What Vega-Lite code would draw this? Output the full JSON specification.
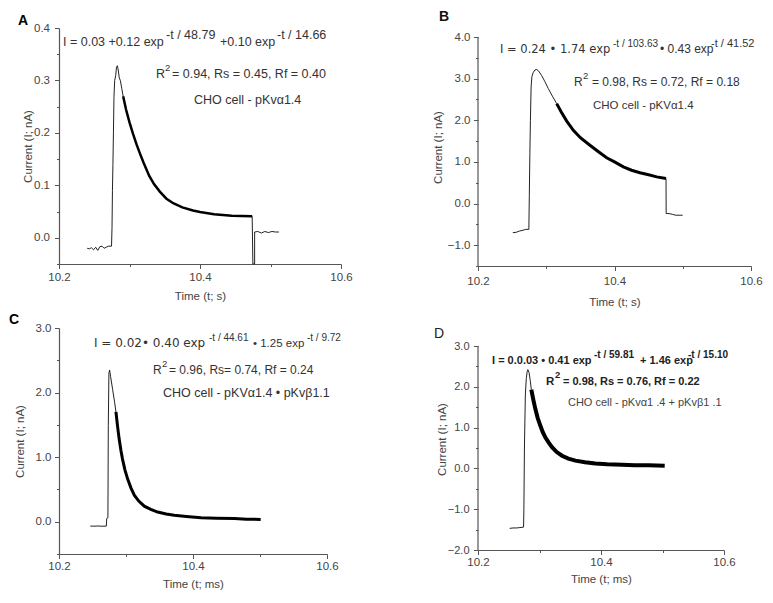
{
"$schema":"https://vega.github.io/schema/vega-lite/v6.json",
"padding":{"left":9,"top":10,"right":0,"bottom":0},
"background":"white",
"config":{"view":{"stroke":null},"font":"Liberation Sans",
"axis":{"grid":false,"domainColor":"#555","tickColor":"#555","labelColor":"#444","titleColor":"#444","labelFont":"Liberation Sans","titleFont":"Liberation Sans","labelFontSize":11.5,"titleFontSize":11.5,"titleFontWeight":"normal","labelFlush":false,"labelOverlap":false,"domainWidth":1.2,"tickWidth":1,"tickCount":40},
"text":{"font":"Liberation Sans","align":"left","baseline":"alphabetic","color":"#333"}},
"datasets":{
"traceA":[
{"t":10.240,"I":-0.020,"seg":"pre"},{"t":10.243,"I":-0.021,"seg":"pre"},{"t":10.246,"I":-0.019,"seg":"pre"},{"t":10.249,"I":-0.023,"seg":"pre"},{"t":10.252,"I":-0.018,"seg":"pre"},{"t":10.255,"I":-0.024,"seg":"pre"},{"t":10.258,"I":-0.017,"seg":"pre"},{"t":10.261,"I":-0.016,"seg":"pre"},{"t":10.264,"I":-0.020,"seg":"pre"},{"t":10.267,"I":-0.018,"seg":"pre"},{"t":10.270,"I":-0.016,"seg":"pre"},{"t":10.2745,"I":-0.016,"seg":"pre"},{"t":10.2752,"I":0.02,"seg":"pre"},{"t":10.2758,"I":0.09,"seg":"pre"},{"t":10.2765,"I":0.14,"seg":"pre"},{"t":10.2772,"I":0.20,"seg":"pre"},{"t":10.278,"I":0.27,"seg":"pre"},{"t":10.279,"I":0.30,"seg":"pre"},{"t":10.2805,"I":0.31,"seg":"pre"},{"t":10.2815,"I":0.325,"seg":"pre"},{"t":10.2828,"I":0.328,"seg":"pre"},{"t":10.284,"I":0.32,"seg":"pre"},{"t":10.2855,"I":0.305,"seg":"pre"},{"t":10.287,"I":0.300,"seg":"pre"},{"t":10.289,"I":0.285,"seg":"pre"},{"t":10.291,"I":0.270,"seg":"pre"},
{"t":10.291,"I":0.270,"seg":"fit"},{"t":10.295,"I":0.245,"seg":"fit"},{"t":10.300,"I":0.220,"seg":"fit"},{"t":10.305,"I":0.198,"seg":"fit"},{"t":10.310,"I":0.178,"seg":"fit"},{"t":10.315,"I":0.160,"seg":"fit"},{"t":10.320,"I":0.143,"seg":"fit"},{"t":10.328,"I":0.118,"seg":"fit"},{"t":10.335,"I":0.102,"seg":"fit"},{"t":10.343,"I":0.088,"seg":"fit"},{"t":10.352,"I":0.075,"seg":"fit"},{"t":10.362,"I":0.066,"seg":"fit"},{"t":10.375,"I":0.058,"seg":"fit"},{"t":10.390,"I":0.052,"seg":"fit"},{"t":10.400,"I":0.049,"seg":"fit"},{"t":10.420,"I":0.045,"seg":"fit"},{"t":10.445,"I":0.042,"seg":"fit"},{"t":10.474,"I":0.041,"seg":"fit"},
{"t":10.474,"I":0.041,"seg":"post"},{"t":10.475,"I":-0.05,"seg":"post"},{"t":10.4775,"I":-0.05,"seg":"post"},{"t":10.4775,"I":0.011,"seg":"post"},{"t":10.482,"I":0.012,"seg":"post"},{"t":10.487,"I":0.009,"seg":"post"},{"t":10.492,"I":0.012,"seg":"post"},{"t":10.497,"I":0.010,"seg":"post"},{"t":10.502,"I":0.012,"seg":"post"},{"t":10.507,"I":0.011,"seg":"post"},{"t":10.512,"I":0.011,"seg":"post"}
],
"traceB":[
{"t":10.251,"I":-0.70,"seg":"pre"},{"t":10.256,"I":-0.69,"seg":"pre"},{"t":10.261,"I":-0.66,"seg":"pre"},{"t":10.266,"I":-0.64,"seg":"pre"},{"t":10.270,"I":-0.62,"seg":"pre"},{"t":10.2745,"I":-0.62,"seg":"pre"},{"t":10.2752,"I":0.2,"seg":"pre"},{"t":10.276,"I":1.2,"seg":"pre"},{"t":10.2768,"I":2.0,"seg":"pre"},{"t":10.2778,"I":2.8,"seg":"pre"},{"t":10.279,"I":3.05,"seg":"pre"},{"t":10.281,"I":3.15,"seg":"pre"},{"t":10.2835,"I":3.21,"seg":"pre"},{"t":10.286,"I":3.22,"seg":"pre"},{"t":10.289,"I":3.18,"seg":"pre"},{"t":10.293,"I":3.08,"seg":"pre"},{"t":10.298,"I":2.93,"seg":"pre"},{"t":10.303,"I":2.76,"seg":"pre"},{"t":10.309,"I":2.58,"seg":"pre"},{"t":10.3153,"I":2.40,"seg":"pre"},
{"t":10.3153,"I":2.40,"seg":"fit"},{"t":10.322,"I":2.20,"seg":"fit"},{"t":10.330,"I":1.98,"seg":"fit"},{"t":10.3397,"I":1.76,"seg":"fit"},{"t":10.350,"I":1.58,"seg":"fit"},{"t":10.364,"I":1.40,"seg":"fit"},{"t":10.376,"I":1.25,"seg":"fit"},{"t":10.3885,"I":1.10,"seg":"fit"},{"t":10.400,"I":1.00,"seg":"fit"},{"t":10.413,"I":0.88,"seg":"fit"},{"t":10.425,"I":0.80,"seg":"fit"},{"t":10.4373,"I":0.74,"seg":"fit"},{"t":10.450,"I":0.69,"seg":"fit"},{"t":10.4618,"I":0.64,"seg":"fit"},{"t":10.4755,"I":0.60,"seg":"fit"},
{"t":10.4755,"I":0.60,"seg":"post"},{"t":10.4757,"I":-0.24,"seg":"post"},{"t":10.480,"I":-0.24,"seg":"post"},{"t":10.485,"I":-0.26,"seg":"post"},{"t":10.490,"I":-0.28,"seg":"post"},{"t":10.4999,"I":-0.28,"seg":"post"}
],
"traceC":[
{"t":10.2467,"I":-0.067,"seg":"pre"},{"t":10.252,"I":-0.070,"seg":"pre"},{"t":10.258,"I":-0.066,"seg":"pre"},{"t":10.264,"I":-0.070,"seg":"pre"},{"t":10.2706,"I":-0.068,"seg":"pre"},{"t":10.2712,"I":0.05,"seg":"pre"},{"t":10.2730,"I":0.06,"seg":"pre"},{"t":10.2736,"I":1.49,"seg":"pre"},{"t":10.2745,"I":2.30,"seg":"pre"},{"t":10.2755,"I":2.35,"seg":"pre"},{"t":10.2770,"I":2.25,"seg":"pre"},{"t":10.2800,"I":2.05,"seg":"pre"},{"t":10.2830,"I":1.85,"seg":"pre"},{"t":10.2850,"I":1.70,"seg":"pre"},
{"t":10.2850,"I":1.70,"seg":"fit"},{"t":10.2875,"I":1.47,"seg":"fit"},{"t":10.2898,"I":1.28,"seg":"fit"},{"t":10.2925,"I":1.10,"seg":"fit"},{"t":10.2948,"I":0.97,"seg":"fit"},{"t":10.2985,"I":0.80,"seg":"fit"},{"t":10.3025,"I":0.66,"seg":"fit"},{"t":10.3075,"I":0.52,"seg":"fit"},{"t":10.3124,"I":0.41,"seg":"fit"},{"t":10.3190,"I":0.32,"seg":"fit"},{"t":10.3273,"I":0.24,"seg":"fit"},{"t":10.3370,"I":0.19,"seg":"fit"},{"t":10.3472,"I":0.15,"seg":"fit"},{"t":10.3600,"I":0.12,"seg":"fit"},{"t":10.372,"I":0.10,"seg":"fit"},{"t":10.390,"I":0.08,"seg":"fit"},{"t":10.412,"I":0.06,"seg":"fit"},{"t":10.435,"I":0.055,"seg":"fit"},{"t":10.4617,"I":0.05,"seg":"fit"},{"t":10.480,"I":0.04,"seg":"fit"},{"t":10.501,"I":0.035,"seg":"fit"}
],
"traceD":[
{"t":10.2515,"I":-1.47,"seg":"pre"},{"t":10.257,"I":-1.46,"seg":"pre"},{"t":10.263,"I":-1.46,"seg":"pre"},{"t":10.268,"I":-1.45,"seg":"pre"},{"t":10.2741,"I":-1.44,"seg":"pre"},{"t":10.2746,"I":-1.0,"seg":"pre"},{"t":10.2755,"I":0.5,"seg":"pre"},{"t":10.2770,"I":1.8,"seg":"pre"},{"t":10.2785,"I":2.2,"seg":"pre"},{"t":10.2800,"I":2.38,"seg":"pre"},{"t":10.2811,"I":2.42,"seg":"pre"},{"t":10.2830,"I":2.35,"seg":"pre"},{"t":10.2850,"I":2.15,"seg":"pre"},{"t":10.2867,"I":1.93,"seg":"pre"},
{"t":10.2867,"I":1.93,"seg":"fit"},{"t":10.2900,"I":1.68,"seg":"fit"},{"t":10.2932,"I":1.46,"seg":"fit"},{"t":10.2970,"I":1.24,"seg":"fit"},{"t":10.3013,"I":1.05,"seg":"fit"},{"t":10.3050,"I":0.90,"seg":"fit"},{"t":10.3094,"I":0.76,"seg":"fit"},{"t":10.3150,"I":0.63,"seg":"fit"},{"t":10.3203,"I":0.52,"seg":"fit"},{"t":10.3280,"I":0.40,"seg":"fit"},{"t":10.3366,"I":0.31,"seg":"fit"},{"t":10.3470,"I":0.24,"seg":"fit"},{"t":10.3583,"I":0.19,"seg":"fit"},{"t":10.3740,"I":0.15,"seg":"fit"},{"t":10.3908,"I":0.12,"seg":"fit"},{"t":10.410,"I":0.10,"seg":"fit"},{"t":10.4342,"I":0.09,"seg":"fit"},{"t":10.455,"I":0.08,"seg":"fit"},{"t":10.4776,"I":0.075,"seg":"fit"},{"t":10.5036,"I":0.065,"seg":"fit"}
]
},
"columns":2,
"spacing":{"row":62,"column":137},
"bounds":"flush",
"concat":[
{"width":282,"height":236,
"title":{"text":"A","anchor":"start","frame":"group","dx":-41,"offset":-5.5,"fontSize":14,"fontWeight":"bold","font":"Liberation Sans","color":"#000"},
"layer":[
{"data":{"name":"traceA"},"transform":[{"filter":"datum.seg != 'fit'"}],"mark":{"type":"line","strokeWidth":1,"color":"#222"},
"encoding":{"x":{"field":"t","type":"quantitative","scale":{"domain":[10.2,10.6],"nice":false,"zero":false},"axis":{"title":"Time (t; s)","tickCount":40,"values":[10.2,10.3,10.4,10.5,10.6],"labelOverlap":false,"labelExpr":"abs(datum.value*5-round(datum.value*5))>0.01 ? '' : format(datum.value,'.1f')","tickSize":{"condition":{"test":"abs(datum.value*5-round(datum.value*5))>0.01","value":2.5},"value":4.5},"labelPadding":3,"titlePadding":7}},
"y":{"field":"I","type":"quantitative","scale":{"domain":[-0.05,0.4],"nice":false,"zero":false},"axis":{"title":"Current (I; nA)","tickCount":40,"values":[-0.05,0,0.05,0.1,0.15,0.2,0.25,0.3,0.35,0.4],"labelOverlap":false,"labelExpr":"abs(datum.value*10-round(datum.value*10))>0.01 ? '' : format(datum.value,'.1f')","tickSize":{"condition":{"test":"abs(datum.value*10-round(datum.value*10))>0.01","value":2.5},"value":4.5},"labelPadding":5,"titlePadding":0}},
"detail":{"field":"seg"},"order":{"value":null}}},
{"data":{"name":"traceA"},"transform":[{"filter":"datum.seg == 'fit'"}],"mark":{"type":"line","strokeWidth":2.5,"color":"#000"},
"encoding":{"x":{"field":"t","type":"quantitative"},"y":{"field":"I","type":"quantitative"},"order":{"value":null}}},
{"data":{"values":[{"label":"I = 0.03 +0.12 exp"}]},"mark":{"type":"text","fontSize":12.5},"encoding":{"x":{"datum":10.2057,"type":"quantitative"},"y":{"datum":0.3657,"type":"quantitative"},"text":{"field":"label"}}},
{"data":{"values":[{"label":"-t / 48.79"}]},"mark":{"type":"text","fontSize":12.5},"encoding":{"x":{"datum":10.3518,"type":"quantitative"},"y":{"datum":0.379,"type":"quantitative"},"text":{"field":"label"}}},
{"data":{"values":[{"label":"+0.10 exp"}]},"mark":{"type":"text","fontSize":12.5},"encoding":{"x":{"datum":10.4284,"type":"quantitative"},"y":{"datum":0.3657,"type":"quantitative"},"text":{"field":"label"}}},
{"data":{"values":[{"label":"-t / 14.66"}]},"mark":{"type":"text","fontSize":12.5},"encoding":{"x":{"datum":10.5092,"type":"quantitative"},"y":{"datum":0.379,"type":"quantitative"},"text":{"field":"label"}}},
{"data":{"values":[{"label":"R"}]},"mark":{"type":"text","fontSize":12.5},"encoding":{"x":{"datum":10.3376,"type":"quantitative"},"y":{"datum":0.3048,"type":"quantitative"},"text":{"field":"label"}}},
{"data":{"values":[{"label":"2"}]},"mark":{"type":"text","fontSize":9.5},"encoding":{"x":{"datum":10.3504,"type":"quantitative"},"y":{"datum":0.318,"type":"quantitative"},"text":{"field":"label"}}},
{"data":{"values":[{"label":"= 0.94, Rs = 0.45, Rf = 0.40"}]},"mark":{"type":"text","fontSize":12.5},"encoding":{"x":{"datum":10.3603,"type":"quantitative"},"y":{"datum":0.3048,"type":"quantitative"},"text":{"field":"label"}}},
{"data":{"values":[{"label":"CHO cell  - pKvα1.4"}]},"mark":{"type":"text","fontSize":12.5},"encoding":{"x":{"datum":10.3915,"type":"quantitative"},"y":{"datum":0.2552,"type":"quantitative"},"text":{"field":"label"}}}
]},
{"width":273,"height":238,
"title":{"text":"B","anchor":"start","frame":"group","dx":-39,"offset":4,"fontSize":14,"fontWeight":"bold","font":"Liberation Sans","color":"#111"},
"layer":[
{"data":{"name":"traceB"},"transform":[{"filter":"datum.seg != 'fit'"}],"mark":{"type":"line","strokeWidth":1,"color":"#222"},
"encoding":{"x":{"field":"t","type":"quantitative","scale":{"domain":[10.2,10.6],"nice":false,"zero":false},"axis":{"title":"Time (t; s)","tickCount":40,"values":[10.2,10.3,10.4,10.5,10.6],"labelOverlap":false,"labelExpr":"abs(datum.value*5-round(datum.value*5))>0.01 ? '' : format(datum.value,'.1f')","tickSize":{"condition":{"test":"abs(datum.value*5-round(datum.value*5))>0.01","value":2.5},"value":4.5},"labelPadding":5,"titlePadding":9}},
"y":{"field":"I","type":"quantitative","scale":{"domain":[-1.5,4.2162],"nice":false,"zero":false},"axis":{"title":"Current (I; nA)","tickCount":40,"domain":false,"values":[-1.5,-1,-0.5,0,0.5,1,1.5,2,2.5,3,3.5,4],"labelOverlap":false,"labelExpr":"abs(datum.value-round(datum.value))>0.01 ? '' : format(datum.value,'.1f')","tickSize":{"condition":{"test":"abs(datum.value-round(datum.value))>0.01","value":2.5},"value":4.5},"labelPadding":3.5,"titlePadding":3.5}},
"detail":{"field":"seg"},"order":{"value":null}}},
{"data":{"name":"traceB"},"transform":[{"filter":"datum.seg == 'fit'"}],"mark":{"type":"line","strokeWidth":3,"color":"#000"},
"encoding":{"x":{"field":"t","type":"quantitative"},"y":{"field":"I","type":"quantitative"},"order":{"value":null}}},
{"data":{"values":[{}]},"mark":{"type":"rule","color":"#555","strokeWidth":1.2},"encoding":{"x":{"datum":10.2,"type":"quantitative"},"y":{"datum":-1.5,"type":"quantitative"},"y2":{"datum":4.0}}},
{"data":{"values":[{"label":"I = 0.24 • 1.74 exp"}]},"mark":{"type":"text","fontSize":11.5,"font":"DejaVu Sans"},"encoding":{"x":{"datum":10.2322,"type":"quantitative"},"y":{"datum":3.621,"type":"quantitative"},"text":{"field":"label"}}},
{"data":{"values":[{"label":"-t / 103.63"}]},"mark":{"type":"text","fontSize":10},"encoding":{"x":{"datum":10.3978,"type":"quantitative"},"y":{"datum":3.765,"type":"quantitative"},"text":{"field":"label"}}},
{"data":{"values":[{"label":"• 0.43 exp"}]},"mark":{"type":"text","fontSize":12},"encoding":{"x":{"datum":10.4666,"type":"quantitative"},"y":{"datum":3.621,"type":"quantitative"},"text":{"field":"label"}}},
{"data":{"values":[{"label":"-t / 41.52"}]},"mark":{"type":"text","fontSize":11},"encoding":{"x":{"datum":10.5414,"type":"quantitative"},"y":{"datum":3.765,"type":"quantitative"},"text":{"field":"label"}}},
{"data":{"values":[{"label":"R"}]},"mark":{"type":"text","fontSize":12},"encoding":{"x":{"datum":10.3407,"type":"quantitative"},"y":{"datum":2.83,"type":"quantitative"},"text":{"field":"label"}}},
{"data":{"values":[{"label":"2"}]},"mark":{"type":"text","fontSize":9.5},"encoding":{"x":{"datum":10.3538,"type":"quantitative"},"y":{"datum":2.998,"type":"quantitative"},"text":{"field":"label"}}},
{"data":{"values":[{"label":"= 0.98, Rs = 0.72, Rf = 0.18"}]},"mark":{"type":"text","fontSize":12},"encoding":{"x":{"datum":10.367,"type":"quantitative"},"y":{"datum":2.83,"type":"quantitative"},"text":{"field":"label"}}},
{"data":{"values":[{"label":"CHO cell - pKVα1.4"}]},"mark":{"type":"text","fontSize":11.5},"encoding":{"x":{"datum":10.3685,"type":"quantitative"},"y":{"datum":2.278,"type":"quantitative"},"text":{"field":"label"}}}
]},
{"width":268,"height":226,
"title":{"text":"C","anchor":"start","frame":"group","dx":-50,"offset":-4.5,"fontSize":14,"fontWeight":"bold","font":"Liberation Sans","color":"#000"},
"layer":[
{"data":{"name":"traceC"},"transform":[{"filter":"datum.seg != 'fit'"}],"mark":{"type":"line","strokeWidth":1,"color":"#222"},
"encoding":{"x":{"field":"t","type":"quantitative","scale":{"domain":[10.2,10.6],"nice":false,"zero":false},"axis":{"title":"Time (t; ms)","tickCount":40,"values":[10.2,10.3,10.4,10.5,10.6],"labelOverlap":false,"labelExpr":"abs(datum.value*5-round(datum.value*5))>0.01 ? '' : format(datum.value,'.1f')","tickSize":{"condition":{"test":"abs(datum.value*5-round(datum.value*5))>0.01","value":2.5},"value":4.5},"labelPadding":2,"titlePadding":6}},
"y":{"field":"I","type":"quantitative","scale":{"domain":[-0.5,3.0],"nice":false,"zero":false},"axis":{"title":"Current (I; nA)","tickCount":40,"values":[-0.5,0,0.5,1,1.5,2,2.5,3],"labelOverlap":false,"labelExpr":"abs(datum.value-round(datum.value))>0.01 ? '' : format(datum.value,'.1f')","tickSize":{"condition":{"test":"abs(datum.value-round(datum.value))>0.01","value":2.5},"value":4.5},"labelPadding":3.5,"titlePadding":10}},
"detail":{"field":"seg"},"order":{"value":null}}},
{"data":{"name":"traceC"},"transform":[{"filter":"datum.seg == 'fit'"}],"mark":{"type":"line","strokeWidth":3,"color":"#000"},
"encoding":{"x":{"field":"t","type":"quantitative"},"y":{"field":"I","type":"quantitative"},"order":{"value":null}}},
{"data":{"values":[{"label":"I = 0.02• 0.40 exp"}]},"mark":{"type":"text","fontSize":12,"font":"DejaVu Sans"},"encoding":{"x":{"datum":10.2522,"type":"quantitative"},"y":{"datum":2.705,"type":"quantitative"},"text":{"field":"label"}}},
{"data":{"values":[{"label":"-t / 44.61"}]},"mark":{"type":"text","fontSize":10},"encoding":{"x":{"datum":10.4239,"type":"quantitative"},"y":{"datum":2.797,"type":"quantitative"},"text":{"field":"label"}}},
{"data":{"values":[{"label":"• 1.25 exp"}]},"mark":{"type":"text","fontSize":11.5},"encoding":{"x":{"datum":10.4895,"type":"quantitative"},"y":{"datum":2.705,"type":"quantitative"},"text":{"field":"label"}}},
{"data":{"values":[{"label":"-t / 9.72"}]},"mark":{"type":"text","fontSize":10},"encoding":{"x":{"datum":10.5701,"type":"quantitative"},"y":{"datum":2.797,"type":"quantitative"},"text":{"field":"label"}}},
{"data":{"values":[{"label":"R"}]},"mark":{"type":"text","fontSize":12},"encoding":{"x":{"datum":10.3403,"type":"quantitative"},"y":{"datum":2.287,"type":"quantitative"},"text":{"field":"label"}}},
{"data":{"values":[{"label":"2"}]},"mark":{"type":"text","fontSize":9.5},"encoding":{"x":{"datum":10.3537,"type":"quantitative"},"y":{"datum":2.396,"type":"quantitative"},"text":{"field":"label"}}},
{"data":{"values":[{"label":"= 0.96, Rs= 0.74, Rf = 0.24"}]},"mark":{"type":"text","fontSize":12},"encoding":{"x":{"datum":10.3642,"type":"quantitative"},"y":{"datum":2.287,"type":"quantitative"},"text":{"field":"label"}}},
{"data":{"values":[{"label":"CHO cell - pKVα1.4 • pKvβ1.1"}]},"mark":{"type":"text","fontSize":12.5},"encoding":{"x":{"datum":10.3552,"type":"quantitative"},"y":{"datum":1.932,"type":"quantitative"},"text":{"field":"label"}}}
]},
{"width":246,"height":222,
"title":{"text":"D","anchor":"start","frame":"group","dx":-44,"offset":-13,"fontSize":14,"fontWeight":"normal","font":"Liberation Sans","color":"#222"},
"layer":[
{"data":{"name":"traceD"},"transform":[{"filter":"datum.seg != 'fit'"}],"mark":{"type":"line","strokeWidth":1,"color":"#222"},
"encoding":{"x":{"field":"t","type":"quantitative","scale":{"domain":[10.2,10.6],"nice":false,"zero":false},"axis":{"title":"Time (t; ms)","tickCount":40,"values":[10.2,10.3,10.4,10.5,10.6],"labelOverlap":false,"labelExpr":"abs(datum.value*5-round(datum.value*5))>0.01 ? '' : format(datum.value,'.1f')","tickSize":{"condition":{"test":"abs(datum.value*5-round(datum.value*5))>0.01","value":2.5},"value":4.5},"labelPadding":2,"titlePadding":5}},
"y":{"field":"I","type":"quantitative","scale":{"domain":[-2.0,3.4412],"nice":false,"zero":false},"axis":{"title":"Current (I; nA)","tickCount":40,"domain":false,"labelFontSize":11,"values":[-2,-1.5,-1,-0.5,0,0.5,1,1.5,2,2.5,3],"labelOverlap":false,"labelExpr":"abs(datum.value-round(datum.value))>0.01 ? '' : format(datum.value,'.1f')","tickSize":{"condition":{"test":"abs(datum.value-round(datum.value))>0.01","value":2.5},"value":4.5},"labelPadding":4.5,"titlePadding":0}},
"detail":{"field":"seg"},"order":{"value":null}}},
{"data":{"name":"traceD"},"transform":[{"filter":"datum.seg == 'fit'"}],"mark":{"type":"line","strokeWidth":4,"color":"#000"},
"encoding":{"x":{"field":"t","type":"quantitative"},"y":{"field":"I","type":"quantitative"},"order":{"value":null}}},
{"data":{"values":[{}]},"mark":{"type":"rule","color":"#555","strokeWidth":1.2},"encoding":{"x":{"datum":10.2,"type":"quantitative"},"y":{"datum":-2.0,"type":"quantitative"},"y2":{"datum":3.0}}},
{"data":{"values":[{"label":"I = 0.0.03 • 0.41 exp"}]},"mark":{"type":"text","fontSize":11,"fontWeight":"bold","color":"#222"},"encoding":{"x":{"datum":10.2228,"type":"quantitative"},"y":{"datum":2.559,"type":"quantitative"},"text":{"field":"label"}}},
{"data":{"values":[{"label":"-t / 59.81"}]},"mark":{"type":"text","fontSize":10,"fontWeight":"bold","color":"#222"},"encoding":{"x":{"datum":10.3886,"type":"quantitative"},"y":{"datum":2.706,"type":"quantitative"},"text":{"field":"label"}}},
{"data":{"values":[{"label":"+ 1.46 exp"}]},"mark":{"type":"text","fontSize":11,"fontWeight":"bold","color":"#222"},"encoding":{"x":{"datum":10.4634,"type":"quantitative"},"y":{"datum":2.559,"type":"quantitative"},"text":{"field":"label"}}},
{"data":{"values":[{"label":"-t / 15.10"}]},"mark":{"type":"text","fontSize":10,"fontWeight":"bold","color":"#222"},"encoding":{"x":{"datum":10.5415,"type":"quantitative"},"y":{"datum":2.706,"type":"quantitative"},"text":{"field":"label"}}},
{"data":{"values":[{"label":"R"}]},"mark":{"type":"text","fontSize":11.5,"fontWeight":"bold","color":"#222"},"encoding":{"x":{"datum":10.3106,"type":"quantitative"},"y":{"datum":2.044,"type":"quantitative"},"text":{"field":"label"}}},
{"data":{"values":[{"label":"2"}]},"mark":{"type":"text","fontSize":9.5,"fontWeight":"bold","color":"#222"},"encoding":{"x":{"datum":10.3252,"type":"quantitative"},"y":{"datum":2.216,"type":"quantitative"},"text":{"field":"label"}}},
{"data":{"values":[{"label":"= 0.98, Rs = 0.76, Rf = 0.22"}]},"mark":{"type":"text","fontSize":11,"fontWeight":"bold","color":"#222"},"encoding":{"x":{"datum":10.3382,"type":"quantitative"},"y":{"datum":2.044,"type":"quantitative"},"text":{"field":"label"}}},
{"data":{"values":[{"label":"CHO cell - pKvα1 .4 + pKvβ1 .1"}]},"mark":{"type":"text","fontSize":11,"color":"#444"},"encoding":{"x":{"datum":10.3463,"type":"quantitative"},"y":{"datum":1.529,"type":"quantitative"},"text":{"field":"label"}}}
]}
]
}
